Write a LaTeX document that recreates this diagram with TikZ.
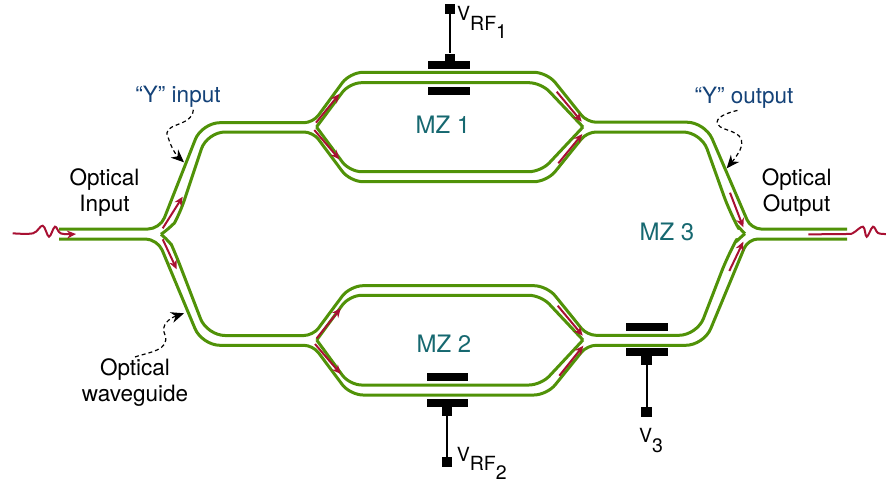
\documentclass[tikz,border=0pt]{standalone}
\usepackage{fontspec}
\setmainfont{TeX Gyre Heros}
\usetikzlibrary{arrows.meta,calc}
\definecolor{guidegreen}{RGB}{80,146,8}
\definecolor{beamred}{RGB}{168,16,50}
\definecolor{mzteal}{RGB}{22,104,112}
\definecolor{ynavy}{RGB}{20,66,120}
\tikzset{
  guide/.style={draw=guidegreen,line width=3pt,line join=round,rounded corners=12pt},
  beam/.style={draw=beamred,line width=2pt,-{Stealth[length=9pt,width=8pt]}},
  plate/.style={fill=black,minimum width=41.5pt,minimum height=8pt,inner sep=0pt},
  stem/.style={fill=black,minimum width=10.5pt,minimum height=9pt,inner sep=0pt},
  lead/.style={line width=2pt},
  leader/.style={dash pattern=on 4pt off 3pt,line width=1.2pt,-{Stealth[length=13pt,width=11pt]}},
  label/.style={font=\fontsize{22.5}{26}\selectfont,align=center,inner sep=2pt},
  volt/.style={font=\fontsize{19.5}{22}\selectfont,inner sep=0pt,anchor=base west},
  mzname/.style={font=\fontsize{24}{28}\selectfont,text=mzteal,anchor=base},
}
\begin{document}
\begin{tikzpicture}[x=1pt,y=-1pt]
  \useasboundingbox (0,0) rectangle (886,482);
  % junction tips
  \coordinate (split) at (161,234.3);
  \coordinate (merge) at (745,233.7);
  \coordinate (MZ1in) at (316.5,127);
  \coordinate (MZ1out) at (583,127);
  \coordinate (MZ2in) at (316.7,340);
  \coordinate (MZ2out) at (583,340);
  % waveguide, upper half
  \draw[guide] (59,229) -- (160,229) [rounded corners=18pt] -- (201.9,122.7) [rounded corners=9pt] -- (313,122.7) [rounded corners=13pt] -- (350,72.3) -- (547,72.3) [rounded corners=9pt] -- (587,122.2) [rounded corners=18pt] -- (705,122.2) [rounded corners=10pt] -- (751,229) -- (847,229);
  \draw[guide] (split) .. controls (170,228) and (175,222) .. (180,213) [rounded corners=18pt] -- (207,132) [rounded corners=9pt] -- (313,132) [rounded corners=13pt] -- (350,181.7) -- (547,181.7) [rounded corners=9pt] -- (587,132) [rounded corners=18pt] -- (701,132) -- (730,213) [sharp corners] .. controls (735,222) and (739,228) .. (merge);
  \draw[guide] (MZ1in) -- (349.5,82.7) -- (541,82.7) -- (MZ1out);
  \draw[guide] (MZ1in) -- (349.5,171.7) -- (541,171.7) -- (MZ1out);
  % waveguide, lower half
  \draw[guide] (59,239) -- (157.5,239) [rounded corners=18pt] -- (202,345.3) [rounded corners=9pt] -- (313,345.3) [rounded corners=13pt] -- (350,395) -- (547,395) [rounded corners=9pt] -- (587,345.3) [rounded corners=18pt] -- (703.8,345.3) [rounded corners=10pt] -- (748,239) -- (847,239);
  \draw[guide] (split) .. controls (168,240) and (172,246) .. (176,255) [rounded corners=18pt] -- (207,335.5) [rounded corners=9pt] -- (313,335.5) [rounded corners=13pt] -- (350,285.7) -- (547,285.7) [rounded corners=9pt] -- (587,335.3) [rounded corners=18pt] -- (697,335.3) -- (728,255) [sharp corners] .. controls (733,246) and (737,240) .. (merge);
  \draw[guide] (MZ2in) -- (349.5,295.3) -- (541,295.3) -- (MZ2out);
  \draw[guide] (MZ2in) -- (349.5,385) -- (541,385) -- (MZ2out);
  % light
  \draw[beam] plot[smooth,tension=0.6] coordinates {(12.7,233.3) (33,233.3) (42.7,225.7) (49,236.7) (55,226.7) (61,233.5) (76,234)};
  \draw[beam,-] plot[smooth,tension=0.6] coordinates {(808.3,234.3) (846,234) (853,233) (863,226.7) (866.7,236.7) (873,226.7) (878,233) (886,234)};
  \draw[beam] (162.7,228.3) -- (182.7,196.7);
  \draw[beam] (162.7,239.3) -- (176.7,269.3);
  \draw[beam] (316,122.7) -- (339.3,94);
  \draw[beam] (314.3,130) -- (339.3,159.3);
  \draw[beam] (556.7,91.7) -- (581.7,121.7);
  \draw[beam] (558.3,163.3) -- (582.3,134);
  \draw[beam] (316.7,338.3) -- (340.7,308.3);
  \draw[beam] (315,344) -- (340.7,374);
  \draw[beam] (557.7,305.7) -- (582.7,335.7);
  \draw[beam] (559.3,375.7) -- (583.3,345.7);
  \draw[beam] (730,192.7) -- (743.3,227.3);
  \draw[beam] (729.3,271) -- (743.3,241.7);
  % electrodes
  \node[plate] (topa) at (449.2,64.5) {};
  \node[plate] (bota) at (449.2,90.8) {};
  \node[stem] (stema) at (450,58) {};
  \node[stem,minimum height=10pt] (pada) at (450,9) {};
  \draw[lead] (pada) -- (stema);
  \node[plate] (topb) at (447.5,376.8) {};
  \node[plate] (botb) at (447.5,402.6) {};
  \node[stem] (stemb) at (447,411) {};
  \node[stem,minimum height=10pt] (padb) at (447,462.3) {};
  \draw[lead] (padb) -- (stemb);
  \node[plate] (topc) at (647.2,326.5) {};
  \node[plate] (botc) at (647.2,352.2) {};
  \node[stem] (stemc) at (646.7,360.5) {};
  \node[stem,minimum height=10pt] (padc) at (646.7,411.7) {};
  \draw[lead] (padc) -- (stemc);
  \node[volt] (vrfa) at (457,20) {V\raisebox{-10pt}{RF\raisebox{-8pt}{1}}};
  \node[volt] (vrfb) at (456.7,461.5) {V\raisebox{-9pt}{RF\raisebox{-9pt}{2}}};
  \node[volt] (vthree) at (639,442.5) {V\raisebox{-9.5pt}{3}};
  % labels
  \node[mzname] (mza) at (443,133.5) {MZ 1};
  \node[mzname] (mzb) at (444,352) {MZ 2};
  \node[mzname] (mzc) at (667,240) {MZ 3};
  \node[label] (input) at (104.5,192.5) {Optical\\Input};
  \node[label] (output) at (796.7,192.5) {Optical\\Output};
  \node[label] (waveguide) at (135,383) {Optical\\waveguide};
  \node[label,text=ynavy,anchor=base] (yin) at (178,102.7) {“Y” input};
  \node[label,text=ynavy,anchor=base] (yout) at (744,103.3) {“Y” output};
  % leaders
  \coordinate (yintip) at (184,162.3);
  \coordinate (youttip) at (726.7,168.3);
  \coordinate (wgtip) at (184,313.3);
  \draw[leader] (yin.-40) .. controls (192,128) and (160,122) .. (168.3,138) .. controls (171,147) and (176,155) .. (yintip);
  \draw[leader] (yout.-117) .. controls (722,114) and (712,120) .. (720,126.7) .. controls (728,132) and (748,132) .. (740,150) .. controls (737,156) and (732,162) .. (youttip);
  \draw[leader] (waveguide.north) .. controls (150,352) and (170,350) .. (165,335) .. controls (160,325) and (170,318) .. (wgtip);
\end{tikzpicture}
\end{document}
